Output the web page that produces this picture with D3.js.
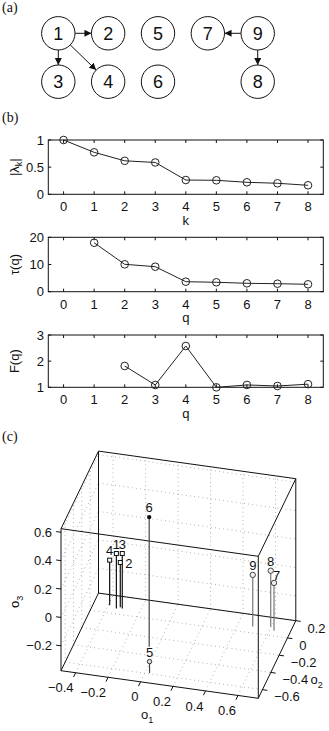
<!DOCTYPE html>
<html>
<head>
<meta charset="utf-8">
<script src="https://cdn.jsdelivr.net/npm/d3@7"></script>
<style>
  body { margin: 0; background: #fff; }
  svg { display: block; }
  text { font-family: "Liberation Sans", Arial, sans-serif; fill: #111; }
  .panel { font-family: "Liberation Serif", "DejaVu Serif", serif; font-size: 14px; }
</style>
</head>
<body>
<svg width="329" height="731"></svg>
<script>
// ---- (a) graph
const nodeIds = [1, 2, 3, 4, 5, 6, 7, 8, 9];
const nodeCol = [0, 1, 0, 1, 2, 2, 3, 4, 4];
const nodeRow = [0, 0, 1, 1, 0, 1, 0, 1, 0];
const edges = [[1, 2], [1, 3], [1, 4], [9, 7], [9, 8]];

// ---- (b) spectra
const xTicks = [0, 1, 2, 3, 4, 5, 6, 7, 8];
const kVals = [0, 1, 2, 3, 4, 5, 6, 7, 8];
const lambdaAbs = [1, 0.773, 0.617, 0.586, 0.263, 0.258, 0.221, 0.203, 0.166];
const qTau = [1, 2, 3, 4, 5, 6, 7, 8];
const tauVals = [18.0, 10.07, 9.19, 3.68, 3.46, 3.09, 2.94, 2.72];
const qF = [2, 3, 4, 5, 6, 7, 8];
const fVals = [1.815, 1.088, 2.58, 1.0, 1.09, 1.05, 1.12];

// ---- (c) embedding
const o1 = [-0.344, -0.325, -0.31, -0.392, 0.027, -0.048, 0.627, 0.597, 0.493];
const o2 = [0.06, 0.08, 0.069, 0.086, -0.59, -0.306, 0.059, 0.097, 0.071];
const o3 = [0.012, -0.06, 0.012, -0.058, -0.295, 0.538, -0.039, 0.019, -0.011];
const markerKind = ["s", "s", "s", "s", "c", "f", "o", "o", "o"];
const o1Ticks = [-0.4, -0.2, 0, 0.2, 0.4, 0.6];
const o2Ticks = [-0.6, -0.4, -0.2, 0, 0.2];
const o3Ticks = [-0.2, 0, 0.2, 0.4, 0.6];

let svg = d3.select("svg");
const fmt = d => d < 0 ? "\u2212" + Math.abs(d) : String(d);

// panel labels
[["(a)", 12], ["(b)", 122], ["(c)", 441]].forEach(([t, y]) => {
  svg.append("text").attr("class", "panel").attr("x", 2).attr("y", y).text(t);
});

// ================= (a)
let gx = d3.scaleLinear().domain([0, 4]).range([58.3, 257.7]);
let gy = d3.scaleLinear().domain([0, 1]).range([33.3, 81.7]);
const R = 16.7;
let pos = {};
nodeIds.forEach((id, i) => pos[id] = [gx(nodeCol[i]), gy(nodeRow[i])]);

svg.append("defs").append("marker")
  .attr("id", "arr").attr("markerUnits", "userSpaceOnUse")
  .attr("markerWidth", 8).attr("markerHeight", 8)
  .attr("refX", 7).attr("refY", 3.5).attr("orient", "auto")
  .append("path").attr("d", "M0,0 L7,3.5 L0,7 Z").attr("fill", "#111");

let ga = svg.append("g");
edges.forEach(([s, t]) => {
  let [x1, y1] = pos[s], [x2, y2] = pos[t];
  let d = Math.hypot(x2 - x1, y2 - y1), ux = (x2 - x1) / d, uy = (y2 - y1) / d;
  ga.append("line")
    .attr("x1", x1 + ux * R).attr("y1", y1 + uy * R)
    .attr("x2", x2 - ux * R).attr("y2", y2 - uy * R)
    .attr("stroke", "#111").attr("stroke-width", 1)
    .attr("marker-end", "url(#arr)");
});
nodeIds.forEach(id => {
  ga.append("circle").attr("cx", pos[id][0]).attr("cy", pos[id][1]).attr("r", R)
    .attr("fill", "#fff").attr("stroke", "#111").attr("stroke-width", 1);
  ga.append("text").attr("x", pos[id][0]).attr("y", pos[id][1] + 6.5)
    .attr("text-anchor", "middle").style("font-size", "18px").text(id);
});

// ================= (b)
let bx = d3.scaleLinear().domain([-0.5, 8.5]).range([48.3, 323.3]);

function linePlot(top, bottom, xs, ys, yDomain, yTicks, ylab, xlab) {
  let y = d3.scaleLinear().domain(yDomain).range([bottom, top]);
  let g = svg.append("g");
  g.append("rect").attr("x", bx.range()[0]).attr("y", top)
    .attr("width", bx.range()[1] - bx.range()[0]).attr("height", bottom - top)
    .attr("fill", "none").attr("stroke", "#111").attr("stroke-width", 1);
  xTicks.forEach(t => {
    g.append("line").attr("x1", bx(t)).attr("x2", bx(t)).attr("y1", bottom).attr("y2", bottom - 3).attr("stroke", "#111");
    g.append("line").attr("x1", bx(t)).attr("x2", bx(t)).attr("y1", top).attr("y2", top + 3).attr("stroke", "#111");
    g.append("text").attr("x", bx(t)).attr("y", bottom + 17).attr("text-anchor", "middle")
      .style("font-size", "13px").text(t);
  });
  yTicks.forEach(t => {
    g.append("line").attr("x1", bx.range()[0]).attr("x2", bx.range()[0] + 3).attr("y1", y(t)).attr("y2", y(t)).attr("stroke", "#111");
    g.append("line").attr("x1", bx.range()[1]).attr("x2", bx.range()[1] - 3).attr("y1", y(t)).attr("y2", y(t)).attr("stroke", "#111");
    g.append("text").attr("x", 44).attr("y", y(t) + 4.6).attr("text-anchor", "end")
      .style("font-size", "13px").text(t);
  });
  let line = d3.line().x((d, i) => bx(xs[i])).y(d => y(d));
  g.append("path").attr("d", line(ys)).attr("fill", "none").attr("stroke", "#222").attr("stroke-width", 1);
  g.selectAll("circle.m").data(ys).enter().append("circle")
    .attr("cx", (d, i) => bx(xs[i])).attr("cy", d => y(d)).attr("r", 3.8)
    .attr("fill", "none").attr("stroke", "#222").attr("stroke-width", 1);
  g.append("text").attr("x", (bx.range()[0] + bx.range()[1]) / 2).attr("y", bottom + 30.5)
    .attr("text-anchor", "middle").style("font-size", "13px").text(xlab);
  let yl = g.append("text").attr("transform", `translate(19,${(top + bottom) / 2}) rotate(-90)`)
    .attr("text-anchor", "middle").style("font-size", "13px");
  ylab(yl);
}

linePlot(140, 194.3, kVals, lambdaAbs, [0, 1], [0, 0.5, 1], t => {
  t.append("tspan").text("|\u03bb");
  t.append("tspan").attr("dy", 3).style("font-size", "9px").text("k");
  t.append("tspan").attr("dy", -3).text("|");
}, "k");
linePlot(237.3, 291.7, qTau, tauVals, [0, 20], [0, 10, 20], t => t.text("\u03c4(q)"), "q");
linePlot(335, 387.3, qF, fVals, [1, 3], [1, 2, 3], t => t.text("F(q)"), "q");

// ================= (c)
const L1 = -0.49, H1 = 0.725, L2 = -0.7, H2 = 0.2, L3 = -0.375, H3 = 0.625;
let s1x = d3.scaleLinear().domain([L1, H1]).range([0, 197.3]);
let s1y = d3.scaleLinear().domain([L1, H1]).range([0, 27.6]);
let s2x = d3.scaleLinear().domain([L2, H2]).range([0, 37.5]);
let s2y = d3.scaleLinear().domain([L2, H2]).range([0, -77.6]);
let s3y = d3.scaleLinear().domain([L3, H3]).range([0, -142]);
function proj(a, b, c) {
  return [61 + s1x(a) + s2x(b), 670.7 + s1y(a) + s2y(b) + s3y(c)];
}
let pl = d3.line();
let gc = svg.append("g");
function seg(p, q, stroke, w, dash) {
  let l = gc.append("path").attr("d", pl([proj(...p), proj(...q)]))
    .attr("fill", "none").attr("stroke", stroke).attr("stroke-width", w);
  if (dash) l.attr("stroke-dasharray", dash);
}
const gridC = "#888", gridD = "0.8,3.4";
// floor
o1Ticks.forEach(t => seg([t, L2, L3], [t, H2, L3], gridC, 0.8, gridD));
o2Ticks.forEach(t => seg([L1, t, L3], [H1, t, L3], gridC, 0.8, gridD));
// back wall
o1Ticks.forEach(t => seg([t, H2, L3], [t, H2, H3], gridC, 0.8, gridD));
o3Ticks.forEach(t => seg([L1, H2, t], [H1, H2, t], gridC, 0.8, gridD));
// left wall
o2Ticks.forEach(t => seg([L1, t, L3], [L1, t, H3], gridC, 0.8, gridD));
o3Ticks.forEach(t => seg([L1, L2, t], [L1, H2, t], gridC, 0.8, gridD));

// box edges
const xs3 = [L1, H1], ys3 = [L2, H2], zs3 = [L3, H3];
xs3.forEach(a => ys3.forEach(b => seg([a, b, L3], [a, b, H3], "#111", 1)));
xs3.forEach(a => zs3.forEach(c => seg([a, L2, c], [a, H2, c], "#111", 1)));
ys3.forEach(b => zs3.forEach(c => seg([L1, b, c], [H1, b, c], "#111", 1)));

// stems + markers
const stemCol = { s: "#111", c: "#444", f: "#444", o: "#777" };
const labelOff = { 2: [8.6, 0.7], 7: [2.7, -7.3] };
nodeIds.forEach((id, i) => {
  let k = markerKind[i];
  let [px, py] = proj(o1[i], o2[i], o3[i]);
  let [bxp, byp] = proj(o1[i], o2[i], L3);
  gc.append("line").attr("x1", px).attr("y1", py).attr("x2", bxp).attr("y2", byp)
    .attr("stroke", stemCol[k]).attr("stroke-width", 1.2);
});
nodeIds.forEach((id, i) => {
  let k = markerKind[i];
  let [px, py] = proj(o1[i], o2[i], o3[i]);
  if (k === "s") {
    gc.append("rect").attr("x", px - 2).attr("y", py - 2).attr("width", 4).attr("height", 4)
      .attr("fill", "#fff").attr("stroke", "#111").attr("stroke-width", 1);
  } else if (k === "f") {
    gc.append("circle").attr("cx", px).attr("cy", py).attr("r", 2.2).attr("fill", "#111");
  } else if (k === "c") {
    gc.append("circle").attr("cx", px).attr("cy", py).attr("r", 2.2)
      .attr("fill", "#ddd").attr("stroke", "#333").attr("stroke-width", 1);
  } else {
    gc.append("circle").attr("cx", px).attr("cy", py).attr("r", 2.7)
      .attr("fill", "#eee").attr("stroke", "#444").attr("stroke-width", 1);
  }
  let off = labelOff[id] || [0, -9.5];
  gc.append("text").attr("x", px + off[0]).attr("y", py + off[1] + 4.6)
    .attr("text-anchor", "middle").style("font-size", "13px").text(id);
});

// ticks and labels
o1Ticks.forEach(t => {
  seg([t, L2, L3], [t, L2 - 0.05, L3], "#111", 1);
  let [x, y] = proj(t, L2, L3);
  gc.append("text").attr("x", x - 2).attr("y", y + 19.6).attr("text-anchor", "end")
    .style("font-size", "13px").text(fmt(t));
});
o2Ticks.forEach(t => {
  seg([H1, t, L3], [H1 + 0.03, t, L3], "#111", 1);
  let [x, y] = proj(H1, t, L3);
  gc.append("text").attr("x", x + 11.7).attr("y", y + 11.8)
    .style("font-size", "13px").text(fmt(t));
});
o3Ticks.forEach(t => {
  seg([L1, L2, t], [L1 - 0.03, L2, t], "#111", 1);
  let [x, y] = proj(L1, L2, t);
  gc.append("text").attr("x", x - 9).attr("y", y + 4.6).attr("text-anchor", "end")
    .style("font-size", "13px").text(fmt(t));
});

function subLabel(t, base, sub) {
  t.append("tspan").text(base);
  t.append("tspan").attr("dy", 4).style("font-size", "9px").text(sub);
}
subLabel(gc.append("text").attr("x", 141).attr("y", 719).style("font-size", "13px"), "o", "1");
subLabel(gc.append("text").attr("x", 310.5).attr("y", 684).style("font-size", "13px"), "o", "2");
subLabel(gc.append("text").attr("transform", "translate(19,608) rotate(-90)").style("font-size", "13px"), "o", "3");
</script>
</body>
</html>
